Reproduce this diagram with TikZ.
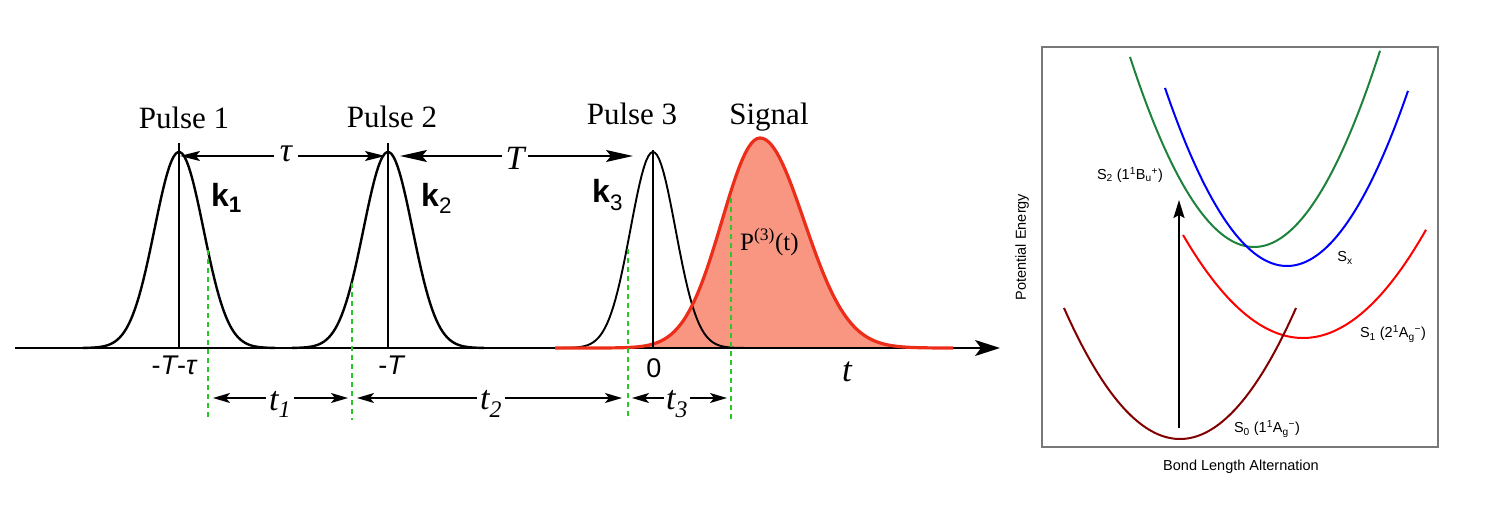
\documentclass[tikz,border=0pt]{standalone}
\usepackage{fontspec}
\setmainfont{Liberation Serif}
\setsansfont{Liberation Sans}
\usetikzlibrary{arrows.meta}
\definecolor{dashgreen}{RGB}{40,200,40}
\definecolor{sigfill}{RGB}{248,150,130}
\definecolor{sigline}{RGB}{235,45,25}
\definecolor{pesgreen}{RGB}{30,130,60}
\definecolor{pesblue}{RGB}{0,0,255}
\definecolor{pesred}{RGB}{255,0,0}
\definecolor{pesdark}{RGB}{130,0,0}
\definecolor{boxgray}{RGB}{120,120,120}
\begin{document}
\begin{tikzpicture}[x=1pt,y=-1pt,
  pulse/.style={line width=2.4pt,line join=round},
  pulsethin/.style={line width=1.9pt,line join=round},
  centerline/.style={line width=1.3pt},
  gdash/.style={draw=dashgreen,line width=1.6pt,dash pattern=on 5pt off 4pt},
  title/.style={font=\fontsize{31}{31}\selectfont,inner sep=0pt,anchor=base},
  kbl/.style={font=\sffamily\bfseries\fontsize{32}{32}\selectfont,inner sep=0pt,anchor=base west},
  tick/.style={font=\sffamily\fontsize{27}{27}\selectfont,inner sep=0pt,anchor=base},
  ilab/.style={font=\itshape\fontsize{34}{34}\selectfont,inner sep=5pt},
  tauhead/.style={-{Stealth[length=20pt,width=10pt,inset=4pt]},line width=1.5pt},
  Thead/.style={-{Stealth[length=27pt,width=12pt,inset=5pt]},line width=1.5pt},
  thead/.style={-{Stealth[length=17pt,width=10pt,inset=4pt]},line width=1.5pt},
  pes/.style={line width=2pt},
  small/.style={font=\sffamily\fontsize{14.5}{14.5}\selectfont,inner sep=0pt}
]
\useasboundingbox (0,0) rectangle (1500,524);

% ---------------- left panel ----------------
% signal fill
\fill[sigfill] (555,348)
  -- plot[domain=555:760,samples=70] (\x,{348-210*exp(-0.5*((\x-760)/38)^2)})
  -- plot[domain=760:953,samples=70] (\x,{348-210*exp(-0.5*((\x-760)/44)^2)})
  -- (953,348) -- cycle;

% axis
\coordinate (axL) at (15,348);
\coordinate (axR) at (1000,348);
\draw[line width=1.5pt,-{Stealth[length=25pt,width=16pt,inset=6pt]}] (axL) -- (axR);

% pulses
\draw[pulse] plot[domain=83:275,samples=90] (\x,{348-196*exp(-0.5*((\x-179)/24.5)^2)});
\draw[pulse] plot[domain=292:484,samples=90] (\x,{348-196*exp(-0.5*((\x-388)/24.5)^2)});
\draw[pulsethin] plot[domain=555:748,samples=90] (\x,{348-196*exp(-0.5*((\x-653)/22.5)^2)});

% signal outline
\draw[sigline,line width=3.2pt,line join=round]
  plot[domain=555:760,samples=70] (\x,{348-210*exp(-0.5*((\x-760)/38)^2)})
  -- plot[domain=760:953,samples=70] (\x,{348-210*exp(-0.5*((\x-760)/44)^2)});

% center lines
\coordinate (c1t) at (179,143); \coordinate (c1b) at (179,348);
\coordinate (c2t) at (388,143); \coordinate (c2b) at (388,348);
\coordinate (c3t) at (653,150); \coordinate (c3b) at (653,348);
\draw[centerline] (c1t) -- (c1b);
\draw[centerline] (c2t) -- (c2b);
\draw[centerline] (c3t) -- (c3b);

% green dashed lines
\coordinate (g1t) at (208,250); \coordinate (g1b) at (208,420);
\coordinate (g2t) at (352,283); \coordinate (g2b) at (352,420);
\coordinate (g3t) at (628,249); \coordinate (g3b) at (628,420);
\coordinate (g4t) at (731,198); \coordinate (g4b) at (731,420);
\draw[gdash] (g1t) -- (g1b);
\draw[gdash] (g2t) -- (g2b);
\draw[gdash] (g3t) -- (g3b);
\draw[gdash] (g4t) -- (g4b);

% titles
\node[title] (p1) at (184,129) {Pulse 1};
\node[title] (p2) at (392,128) {Pulse 2};
\node[title] (p3) at (632,125) {Pulse 3};
\node[title] (sig) at (769,125) {Signal};

% k labels
\node[kbl] (k1) at (211,206) {k\textsubscript{1}};
\node[kbl] (k2) at (421,206) {k\textsubscript{\mdseries 2}};
\node[kbl] (k3) at (592,203) {k\textsubscript{\mdseries 3}};

% polarization label
\node[font=\fontsize{25}{25}\selectfont,inner sep=0pt,anchor=base west] (pol) at (740,250) {P\textsuperscript{(3)}(t)};

% tick labels
\node[tick] (tk1) at (174,374) {-{\itshape T}-{\itshape τ}};
\node[tick] (tk2) at (391,374) {-{\itshape T}};
\node[tick] (tk3) at (654,377) {0};
\node[font=\itshape\fontsize{35}{35}\selectfont,inner sep=0pt,anchor=base] (tax) at (847,381) {t};

% tau arrow
\coordinate (tauL) at (180,156);
\coordinate (tauR) at (385,156);
\node[ilab,inner sep=6pt] (taulab) at (286,154) {τ};
\draw[tauhead] (taulab.west |- tauL) -- (tauL);
\draw[tauhead] (taulab.east |- tauR) -- (tauR);

% T arrow
\coordinate (TL) at (400,156);
\coordinate (TR) at (633,156);
\node[ilab,inner sep=3pt] (Tlab) at (515,158) {T};
\draw[Thead] (Tlab.west |- TL) -- (TL);
\draw[Thead] (Tlab.east |- TR) -- (TR);

% t arrows
\coordinate (t1L) at (213,398); \coordinate (t1R) at (348,398);
\coordinate (t2L) at (357,398); \coordinate (t2R) at (622,398);
\coordinate (t3L) at (632,398); \coordinate (t3R) at (727,398);
\node[ilab,inner sep=3pt] (t1lab) at (280,404) {t\textsubscript{1}};
\node[ilab,inner sep=3pt] (t2lab) at (491,404) {t\textsubscript{2}};
\node[ilab,inner sep=2pt] (t3lab) at (677,404) {t\textsubscript{3}};
\draw[thead] (t1lab.west |- t1L) -- (t1L);
\draw[thead] (t1lab.east |- t1R) -- (t1R);
\draw[thead] (t2lab.west |- t2L) -- (t2L);
\draw[thead] (t2lab.east |- t2R) -- (t2R);
\draw[thead] (t3lab.west |- t3L) -- (t3L);
\draw[thead] (t3lab.east |- t3R) -- (t3R);

% ---------------- right panel ----------------
\draw[boxgray,line width=1.1pt] (1042,47) rectangle (1438,447);
\node[small,rotate=90] (ylab) at (1022,247) {Potential Energy};
\node[small] (xlab) at (1241,467) {Bond Length Alternation};

\draw[pes,pesgreen] plot[domain=1130:1380,samples=80] (\x,{247-0.012357*(\x-1254)^2});
\draw[pes,pesblue] plot[domain=1165:1408,samples=80] (\x,{266-0.011959*(\x-1287)^2});
\draw[pes,pesred] plot[domain=1183:1426,samples=80] (\x,{338-0.007153*(\x-1303)^2});
\draw[pes,pesdark] plot[domain=1064:1296,samples=80] (\x,{439-0.009735*(\x-1180)^2});

\coordinate (exB) at (1179,428);
\coordinate (exT) at (1179,200);
\draw[line width=2pt,-{Stealth[length=18pt,width=11pt,inset=3pt]}] (exB) -- (exT);

\node[small] (s2) at (1130,175) {S\textsubscript{2} (1\textsuperscript{1}B\textsubscript{u}\textsuperscript{+})};
\node[small] (sx) at (1345,258) {S\textsubscript{x}};
\node[small] (s1) at (1393,334) {S\textsubscript{1} (2\textsuperscript{1}A\textsubscript{g}\textsuperscript{−})};
\node[small] (s0) at (1267,429) {S\textsubscript{0} (1\textsuperscript{1}A\textsubscript{g}\textsuperscript{−})};
\end{tikzpicture}
\end{document}
